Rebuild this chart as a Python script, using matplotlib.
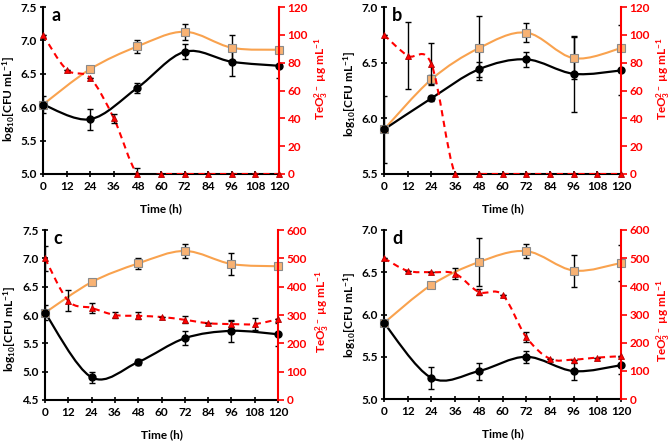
import numpy as np
import matplotlib
matplotlib.use('Agg')
import matplotlib.pyplot as plt
from matplotlib.path import Path
from matplotlib.patches import PathPatch

plt.rcParams['font.family'] = ['Lato', 'DejaVu Sans']
plt.rcParams['font.weight'] = 'bold'
plt.rcParams['mathtext.fontset'] = 'custom'
plt.rcParams['mathtext.rm'] = 'Lato:bold'
plt.rcParams['mathtext.it'] = 'Lato:bold'
plt.rcParams['mathtext.bf'] = 'Lato:bold'
plt.rcParams['mathtext.default'] = 'rm'

# sampling times
t_cfu = [0, 24, 48, 72, 96, 120]
t_te = [0, 12, 24, 36, 48, 60, 72, 84, 96, 108, 120]
x_ticks = [0, 12, 24, 36, 48, 60, 72, 84, 96, 108, 120]

# panel a
a_black = [6.04, 5.82, 6.29, 6.83, 6.68, 6.62]
a_black_err = [0.13, 0.16, 0.07, 0.11, 0.21, 0.19]
a_orange = [6.04, 6.57, 6.91, 7.13, 6.89, 6.86]
a_orange_err = [0.0, 0.03, 0.1, 0.12, 0.19, 0.02]
a_red = [100, 75, 69, 40, 0, 0, 0, 0, 0, 0, 0]
a_red_err = [0, 0, 0, 3, 4, 0, 0, 0, 0, 0, 0]

# panel b
b_black = [5.90, 6.18, 6.44, 6.53, 6.40, 6.43]
b_black_err = [0.3, 0.02, 0.07, 0.07, 0.34, 0.22]
b_orange = [5.90, 6.35, 6.63, 6.77, 6.54, 6.63]
b_orange_err = [0.0, 0.04, 0.285, 0.085, 0.19, 0.21]
b_red = [100, 85, 79, 0, 0, 0, 0, 0, 0, 0, 0]
b_red_err = [0, 24, 15, 0, 0, 0, 0, 0, 0, 0, 0]

# panel c
c_black = [6.04, 4.90, 5.17, 5.59, 5.72, 5.66]
c_black_err = [0.13, 0.1, 0.06, 0.12, 0.2, 0.2]
c_orange = [6.04, 6.58, 6.91, 7.13, 6.90, 6.86]
c_orange_err = [0.0, 0.03, 0.1, 0.12, 0.19, 0.02]
c_red = [500, 350, 325, 300, 297, 293, 283, 271, 268, 268, 285]
c_red_err = [45, 37, 18, 12, 12, 0, 12, 0, 10, 20, 0]

# panel d
d_black = [5.90, 5.25, 5.33, 5.50, 5.33, 5.40]
d_black_err = [0.0, 0.13, 0.1, 0.07, 0.1, 0.1]
d_orange = [5.90, 6.35, 6.62, 6.75, 6.52, 6.61]
d_orange_err = [0.0, 0.02, 0.28, 0.085, 0.19, 0.21]
d_red = [500, 455, 450, 445, 380, 370, 220, 143, 140, 147, 152]
d_red_err = [0, 0, 0, 20, 12, 0, 17, 0, 0, 0, 0]

RED = '#FF0000'
ORANGE = '#F9A24E'


def smooth(x, y):
    # excel-like smoothed line through the points (cubic bezier segments)
    verts = [(x[0], y[0])]
    codes = [Path.MOVETO]
    n = len(x)
    for i in range(n - 1):
        x0, y0 = (x[i-1], y[i-1]) if i > 0 else (x[i], y[i])
        x3, y3 = (x[i+2], y[i+2]) if i + 2 < n else (x[i+1], y[i+1])
        c1 = (x[i] + (x[i+1] - x0) / 6, y[i] + (y[i+1] - y0) / 6)
        c2 = (x[i+1] - (x3 - x[i]) / 6, y[i+1] - (y3 - y[i]) / 6)
        verts += [c1, c2, (x[i+1], y[i+1])]
        codes += [Path.CURVE4] * 3
    return Path(verts, codes)


def panel(rect, letter, black, black_err, orange, orange_err, red, red_err,
          ylim, yticks, rlim, rticks, lab_l, lab_r):
    ax = fig.add_axes(rect)
    ax2 = ax.twinx()

    ax.add_patch(PathPatch(smooth(t_cfu, orange), fill=False, edgecolor=ORANGE, lw=1.5, zorder=2))
    ax.add_patch(PathPatch(smooth(t_cfu, black), fill=False, edgecolor='black', lw=1.6, zorder=2))
    ax.errorbar(t_cfu, orange, yerr=orange_err, fmt='none', ecolor='black', elinewidth=1,
                capsize=2, capthick=1, zorder=3)
    ax.errorbar(t_cfu, black, yerr=black_err, fmt='none', ecolor='black', elinewidth=1,
                capsize=2, capthick=1, zorder=3)
    ax.plot(t_cfu, orange, 's', ms=5.5, mfc='#F8B273', mec='#8a8a8a', mew=0.8, zorder=4, clip_on=False)
    ax.plot(t_cfu, black, 'o', ms=5, mfc='black', mec='black', zorder=5, clip_on=False)

    ax2.add_patch(PathPatch(smooth(t_te, red), fill=False, edgecolor=RED, lw=1.5,
                            linestyle=(0, (3, 2.2)), zorder=2))
    ax2.errorbar(t_te, red, yerr=red_err, fmt='none', ecolor='black', elinewidth=1,
                 capsize=2, capthick=1, zorder=3)
    ax2.plot(t_te, red, '^', ms=5, mfc=RED, mec='#B00000', mew=0.6, zorder=4, clip_on=False)

    ax.set_xlim(0, 120)
    ax.set_ylim(*ylim)
    ax.set_yticks(yticks)
    ax.set_yticklabels(['%.1f' % v for v in yticks])
    ax.set_xticks(x_ticks)
    ax2.set_ylim(*rlim)
    ax2.set_yticks(rticks)

    for a_ in (ax, ax2):
        a_.spines['top'].set_visible(False)
        a_.set_facecolor('none')
    ax.spines['right'].set_visible(False)
    ax2.spines['left'].set_visible(False)
    ax2.spines['bottom'].set_visible(False)
    ax.spines['left'].set_linewidth(1.5)
    ax.spines['bottom'].set_linewidth(1.5)
    ax2.spines['right'].set_linewidth(1.5)
    ax2.spines['right'].set_color(RED)

    ax.tick_params(axis='y', direction='inout', length=5, width=1.2, labelsize=8.5, pad=2)
    ax.tick_params(axis='x', direction='inout', length=4, width=1.2, labelsize=8.5, pad=3)
    ax2.tick_params(axis='y', direction='out', length=4, width=1.2, colors=RED,
                    labelsize=8.5, pad=2)

    ax.text(0.035, 1.0, letter, transform=ax.transAxes, fontsize=13, fontweight='bold',
            ha='left', va='top')
    ax.text(lab_l[0], lab_l[1], r'log$_{10}$[CFU mL$^{-1}$]', transform=ax.transAxes,
            rotation=90, ha='center', va='center', fontsize=8.5, fontweight='bold')
    ax.text(lab_r[0], lab_r[1], r'TeO$_3^{2-}$ µg mL$^{-1}$', transform=ax.transAxes,
            rotation=90, ha='center', va='center', fontsize=8.5, fontweight='bold', color=RED)
    ax.text(0.5, -0.205, 'Time (h)', transform=ax.transAxes, ha='center', va='center',
            fontsize=8.5, fontweight='bold')


fig = plt.figure(figsize=(6.71, 4.41), dpi=100)

panel([43/671, 1-174/441, 236/671, 167/441], 'a', a_black, a_black_err, a_orange, a_orange_err,
      a_red, a_red_err, (5.0, 7.5), [5.0, 5.5, 6.0, 6.5, 7.0, 7.5], (0, 120), list(range(0, 121, 20)),
      (-0.145, 0.45), (1.18, 0.57))
panel([384/671, 1-174/441, 237/671, 167/441], 'b', b_black, b_black_err, b_orange, b_orange_err,
      b_red, b_red_err, (5.5, 7.0), [5.5, 6.0, 6.5, 7.0], (0, 120), list(range(0, 121, 20)),
      (-0.145, 0.48), (1.18, 0.57))
panel([45/671, 1-400/441, 233/671, 170/441], 'c', c_black, c_black_err, c_orange, c_orange_err,
      c_red, c_red_err, (4.5, 7.5), [4.5, 5.0, 5.5, 6.0, 6.5, 7.0, 7.5], (0, 600), list(range(0, 601, 100)),
      (-0.15, 0.42), (1.19, 0.52))
panel([384/671, 1-399/441, 237/671, 169/441], 'd', d_black, d_black_err, d_orange, d_orange_err,
      d_red, d_red_err, (5.0, 7.0), [5.0, 5.5, 6.0, 6.5, 7.0], (0, 600), list(range(0, 601, 100)),
      (-0.145, 0.5), (1.18, 0.46))

fig.savefig('out.png', dpi=100)
